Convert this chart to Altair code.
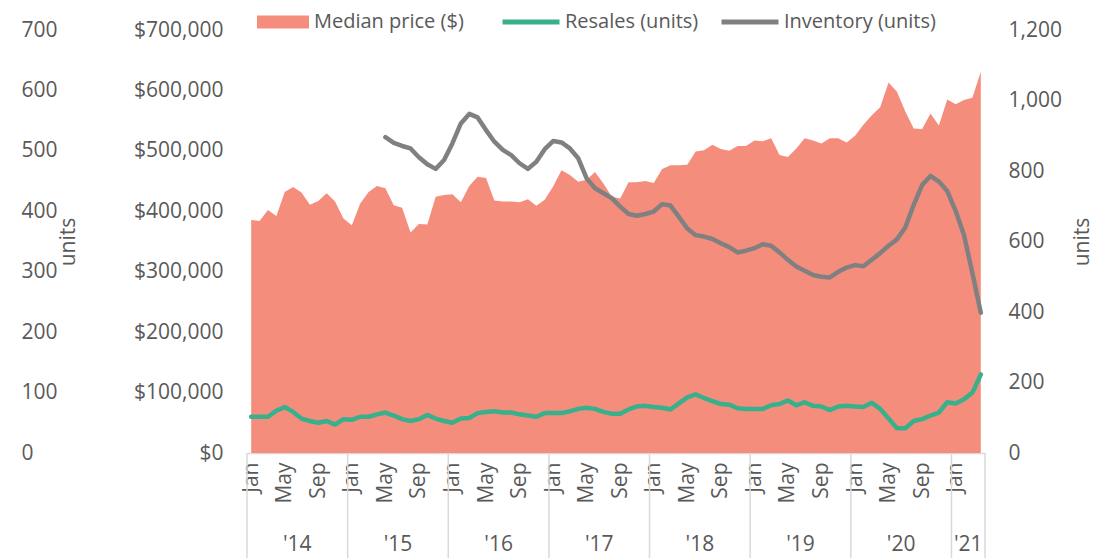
import altair as alt
import pandas as pd

FONT = "Open Sans"
TXT = "#595959"
SALMON = "#F58D7D"
TEAL = "#38B08C"
GRAY = "#808080"
DIV = "#D9D9D9"

month_names = ["Jan", "Feb", "Mar", "Apr", "May", "Jun", "Jul", "Aug", "Sep", "Oct", "Nov", "Dec"]
year_labels = ["'14", "'15", "'16", "'17", "'18", "'19", "'20", "'21"]

# Monthly, Jan 2014 - Apr 2021
price = [
    385600, 384000, 402000, 392000, 432000, 440000, 431000, 411000, 417000, 430000, 416000, 388000,
    377000, 413000, 432000, 442000, 438000, 410000, 406000, 365000, 379000, 378000, 424000, 427000,
    428000, 415000, 442000, 457000, 455000, 418000, 416000, 416000, 415000, 420000, 409000, 419000,
    441000, 468000, 460000, 449000, 452000, 465000, 446000, 424000, 421000, 448000, 448000, 450000,
    447000, 470000, 476000, 476000, 477000, 499000, 501000, 510000, 503000, 500000, 508000, 508000,
    517000, 516000, 521000, 493000, 490000, 504000, 521000, 517000, 512000, 521000, 521000, 514000,
    525000, 543000, 559000, 572000, 613000, 598000, 565000, 537000, 536000, 562000, 542000, 585000,
    577000, 584000, 588000, 631000,
]
resales = [
    60, 60, 60, 70, 76, 68, 57, 53, 50, 53, 47, 56,
    55, 60, 60, 64, 67, 62, 56, 53, 56, 63, 57, 53,
    50, 57, 58, 66, 68, 69, 67, 67, 64, 62, 60, 66,
    66, 66, 69, 73, 75, 73, 68, 65, 65, 72, 77, 78,
    76, 75, 72, 82, 92, 97, 91, 86, 81, 80, 74, 73,
    73, 73, 79, 81, 87, 79, 84, 78, 77, 71, 77, 78,
    77, 76, 83, 73, 57, 41, 41, 53, 56, 62, 67, 84,
    82, 89, 100, 130,
]
# Inventory starts May 2015
inventory_start = 16
inventory = [
    896, 880, 871, 864, 839, 819, 806, 831,
    879, 935, 962, 952, 916, 883, 860, 845, 822, 806, 826, 862,
    885, 881, 864, 836, 779, 751, 737, 723, 699, 678, 673, 678,
    685, 706, 702, 670, 637, 618, 614, 607, 595, 584, 569, 574,
    581, 592, 588, 569, 548, 529, 517, 505, 500, 498, 514, 526,
    533, 530, 548, 567, 588, 606, 640, 704, 760, 786, 770, 743,
    687, 618, 510, 398,
]

n = len(price)
df = pd.DataFrame({
    "m": [i + 0.5 for i in range(n)],
    "price": price,
    "resales": resales,
    "s_price": "Median price ($)",
    "s_res": "Resales (units)",
})
inv_df = pd.DataFrame({
    "m": [inventory_start + i + 0.5 for i in range(len(inventory))],
    "inventory": inventory,
    "s_inv": "Inventory (units)",
})
year_starts = list(range(0, n, 12))
bounds_df = pd.DataFrame({"m": year_starts + [n]})
ylab_df = pd.DataFrame({
    "m": [(s + min(s + 12, n)) / 2 for s in year_starts],
    "t": year_labels,
})

W, H = 738, 423

xscale = alt.Scale(domain=[0, n], nice=False, zero=False)
month_js = "[" + ",".join("'%s'" % m for m in month_names) + "]"
xaxis = alt.Axis(
    values=[i + 0.5 for i in range(0, n, 4)],
    labelExpr=month_js + "[floor(datum.value) % 12]",
    labelAngle=-90, labelFont=FONT, labelFontSize=21, labelColor=TXT,
    labelPadding=9, labelOverlap=False, ticks=False, grid=False,
    domainColor=DIV, domainWidth=1.5,
)
X = alt.X("m:Q", scale=xscale, axis=xaxis, title=None)

common_axis = dict(ticks=False, domain=False, grid=False, labelFont=FONT,
                   labelFontSize=21, labelColor=TXT, titleFont=FONT,
                   titleFontSize=21, titleColor=TXT, titleFontWeight="normal")

fill_legend = alt.Legend(
    orient="none", legendX=10, legendY=-34, direction="horizontal", title=None,
    symbolType="M-1,-0.25H1V0.25H-1Z", symbolSize=2704, symbolStrokeWidth=0,
    labelFont=FONT, labelFontSize=20, labelColor=TXT, labelOffset=5, padding=0,
    labelLimit=400,
)
stroke_legend = alt.Legend(
    orient="none", legendX=253, legendY=-39, direction="horizontal", title=None,
    symbolType="stroke", symbolSize=3249, symbolStrokeWidth=5,
    labelFont=FONT, labelFontSize=20, labelColor=TXT, labelOffset=3, padding=0,
    columnPadding=12, labelLimit=400,
)
stroke_scale = alt.Scale(domain=["Resales (units)", "Inventory (units)"], range=[TEAL, GRAY])

area = alt.Chart(df).mark_area(opacity=1).encode(
    x=X,
    y=alt.Y("price:Q", stack=False,
            scale=alt.Scale(domain=[0, 700000], nice=False),
            axis=alt.Axis(orient="left", values=list(range(0, 700001, 100000)),
                          format="$,.0f", labelAlign="right", labelPadding=24,
                          **common_axis),
            title=None),
    fill=alt.Fill("s_price:N", scale=alt.Scale(domain=["Median price ($)"], range=[SALMON]),
                  legend=fill_legend),
)

dividers = alt.Chart(bounds_df).mark_rule(color=DIV, strokeWidth=1.5).encode(
    x=X,
    y=alt.value(H),
    y2=alt.value(H + 110),
)

res_line = alt.Chart(df).mark_line(strokeWidth=4.5, strokeCap="round", strokeJoin="round").encode(
    x=X,
    y=alt.Y("resales:Q", scale=alt.Scale(domain=[0, 700], nice=False),
            axis=alt.Axis(orient="left", offset=0, values=list(range(0, 701, 100)),
                          labelAlign="left", labelPadding=226, titleAngle=270,
                          titleX=-179, titleY=H / 2, titleBaseline="middle",
                          **common_axis),
            title="units"),
    stroke=alt.Stroke("s_res:N", scale=stroke_scale, legend=stroke_legend),
)

inv_line = alt.Chart(inv_df).mark_line(strokeWidth=4.5, strokeCap="round", strokeJoin="round").encode(
    x=X,
    y=alt.Y("inventory:Q", scale=alt.Scale(domain=[0, 1200], nice=False),
            axis=alt.Axis(orient="right", values=list(range(0, 1201, 200)),
                          format=",.0f", labelAlign="left", labelPadding=23, titleAngle=270,
                          titleX=97, titleY=H / 2, titleBaseline="middle",
                          **common_axis),
            title="units"),
    stroke=alt.Stroke("s_inv:N", scale=stroke_scale, legend=stroke_legend),
)

year_text = alt.Chart(ylab_df).mark_text(font=FONT, fontSize=21, color=TXT, baseline="middle").encode(
    x=X,
    y=alt.value(H + 92),
    text="t:N",
)

chart = alt.layer(area, dividers, res_line, inv_line, year_text).resolve_scale(
    y="independent"
).properties(
    width=W, height=H,
    autosize="none",
    padding={"left": 239, "top": 22, "right": 112, "bottom": 105},
).configure_view(stroke=None)

chart.save("out.html", embed_options={"renderer": "svg", "actions": False})
